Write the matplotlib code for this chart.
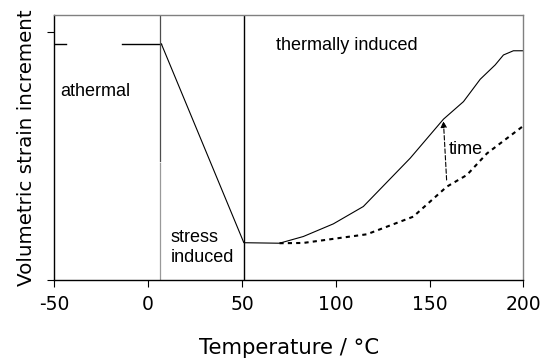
import matplotlib
matplotlib.use("Agg")
import matplotlib.pyplot as plt

# sketch of volumetric strain increment vs temperature
athermal_x1 = [-50, -43.7]
athermal_x2 = [-14, 7]
athermal_y = 0.952

solid_x = [7, 51, 70, 82.7, 98.7, 114.7, 139.7, 157.4, 168.1, 177, 185, 189.4, 194.7, 200]
solid_y = [0.952, 0.15, 0.148, 0.175, 0.226, 0.296, 0.491, 0.648, 0.719, 0.809, 0.867, 0.907, 0.924, 0.924]

dash_x = [70, 82.6, 116.6, 141.3, 159.2, 169.9, 180.6, 200]
dash_y = [0.148, 0.149, 0.184, 0.255, 0.376, 0.423, 0.510, 0.621]

arrow_start = (159.1, 0.403)
arrow_end = (157.4, 0.640)

x_ticks = [-50, 0, 50, 100, 150, 200]

fig = plt.figure(figsize=(5.44, 3.64), dpi=100)
ax = fig.add_axes([0.1, 0.231, 0.862, 0.729])

lbl = 'Liberation Sans'

ax.plot(athermal_x1, [athermal_y] * 2, color='black', lw=1)
ax.plot(athermal_x2, [athermal_y] * 2, color='black', lw=1)
ax.plot(solid_x, solid_y, color='black', lw=0.8)
ax.plot(dash_x, dash_y, color='black', lw=1.5, ls=(0, (2, 2)))

# region separators
ax.plot([6.5, 6.5], [0.48, 1.07], color='0.3', lw=0.9)
ax.plot([6.5, 6.5], [0, 0.47], color='0.6', lw=0.9)
ax.plot([51, 51], [0, 1.07], color='black', lw=1)

ax.annotate('', xy=arrow_end, xytext=arrow_start,
            arrowprops=dict(arrowstyle='-|>', color='black', lw=0.8, ls=(0, (4, 2)),
                            mutation_scale=9, shrinkA=0, shrinkB=0))

ax.text(-47, 0.76, 'athermal', fontsize=13, family=lbl, va='center', ha='left')
ax.text(68, 0.945, 'thermally induced', fontsize=13, family=lbl, va='center', ha='left')
ax.text(12, 0.13, 'stress\ninduced', fontsize=13, family=lbl, va='center', ha='left',
        linespacing=1.2)
ax.text(160, 0.527, 'time', fontsize=13, family=lbl, va='center', ha='left')

ax.set_xlim(-50, 200)
ax.set_ylim(0, 1.07)
ax.set_xticks(x_ticks)
ax.set_xticklabels([str(t) for t in x_ticks])
ax.set_yticks([0, 1])
ax.set_yticklabels([])
ax.tick_params(direction='out', length=5, width=0.8, labelsize=13.5, pad=6)

for s in ['top', 'right']:
    ax.spines[s].set_color('0.5')
    ax.spines[s].set_linewidth(1)
for s in ['left', 'bottom']:
    ax.spines[s].set_linewidth(1)

ax.set_xlabel('Temperature / °C', fontsize=15.3, labelpad=17)
ax.set_ylabel('Volumetric strain increment', fontsize=14.3, labelpad=2)

fig.savefig('out.png', dpi=100)
